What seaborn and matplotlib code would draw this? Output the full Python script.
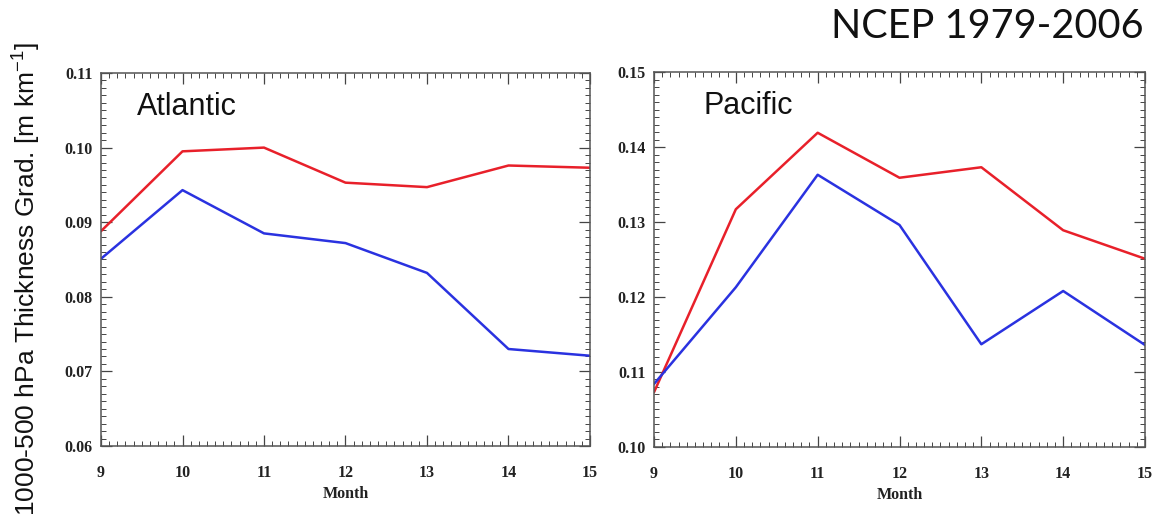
import matplotlib
matplotlib.use("Agg")
import matplotlib.pyplot as plt
import seaborn as sns
import pandas as pd
from matplotlib.ticker import MultipleLocator, AutoMinorLocator

months = [9, 10, 11, 12, 13, 14, 15]
atlantic_red = [0.0888, 0.0995, 0.1000, 0.0953, 0.0947, 0.0976, 0.0973]
atlantic_blue = [0.0851, 0.0943, 0.0885, 0.0872, 0.0832, 0.0730, 0.0721]
pacific_red = [0.1073, 0.1317, 0.1419, 0.1359, 0.1373, 0.1289, 0.1251]
pacific_blue = [0.1084, 0.1213, 0.1363, 0.1296, 0.1137, 0.1208, 0.1136]

sns.set_theme(style="white")
plt.rcParams['font.family'] = ['DejaVu Sans']
plt.rcParams['mathtext.fontset'] = 'custom'
plt.rcParams['mathtext.rm'] = 'Liberation Sans'

fig = plt.figure(figsize=(11.76, 5.22), dpi=100)
ax1 = fig.add_axes([101/1176, 1-446/522, (590-101)/1176, (446-73)/522])
ax2 = fig.add_axes([654/1176, 1-447/522, (1145-654)/1176, (447-72)/522])

red = "#e8202a"
blue = "#2a32e0"

panels = [
    (ax1, atlantic_red, atlantic_blue, "Atlantic", (0.06, 0.11), 0.074),
    (ax2, pacific_red, pacific_blue, "Pacific", (0.10, 0.15), 0.10),
]
for ax, r, b, name, ylim, tx in panels:
    df = pd.DataFrame({"Month": months, "red": r, "blue": b})
    sns.lineplot(data=df, x="Month", y="red", ax=ax, color=red, lw=1.8)
    sns.lineplot(data=df, x="Month", y="blue", ax=ax, color=blue, lw=1.8)
    ax.set_xlim(9, 15)
    ax.set_ylim(*ylim)
    ax.xaxis.set_major_locator(MultipleLocator(1))
    ax.xaxis.set_minor_locator(AutoMinorLocator(10))
    ax.yaxis.set_major_locator(MultipleLocator(0.01))
    ax.yaxis.set_minor_locator(AutoMinorLocator(10))
    ax.yaxis.set_major_formatter(matplotlib.ticker.FormatStrFormatter('%.2f'))
    ax.tick_params(which='both', direction='in', top=True, right=True,
                   bottom=True, left=True, colors='#444444')
    ax.tick_params(which='major', length=8, width=0.9, labelsize=11.5,
                   labelcolor='#222222')
    ax.tick_params(axis='x', which='major', pad=14)
    ax.tick_params(axis='y', which='major', pad=6)
    ax.tick_params(which='minor', length=3.5, width=0.7)
    for lab in ax.get_xticklabels() + ax.get_yticklabels():
        lab.set_family('Liberation Serif')
        lab.set_fontweight('bold')
    for s in ax.spines.values():
        s.set_color('#555555')
        s.set_linewidth(1.1)
    ax.set_xlabel("Month", family='Liberation Serif', fontsize=11.5,
                  fontweight='bold', labelpad=3, color='#222222')
    ax.set_ylabel("")
    ax.text(tx, 0.91, name, transform=ax.transAxes, fontsize=22,
            family='Liberation Sans', va='center', ha='left', color='#111111')

fig.text(26/1176, 0.5 - 18/522, "1000-500 hPa Thickness Grad. [m km$^{-1}$]",
         rotation=90, va='center', ha='center', fontsize=19,
         family='Liberation Sans', color='#111111')
fig.text(1144/1176, 1-26/522, "NCEP 1979-2006", ha='right', va='center',
         fontsize=28.5, family='Lato', color='#111111')

fig.savefig("out.png", dpi=100)
